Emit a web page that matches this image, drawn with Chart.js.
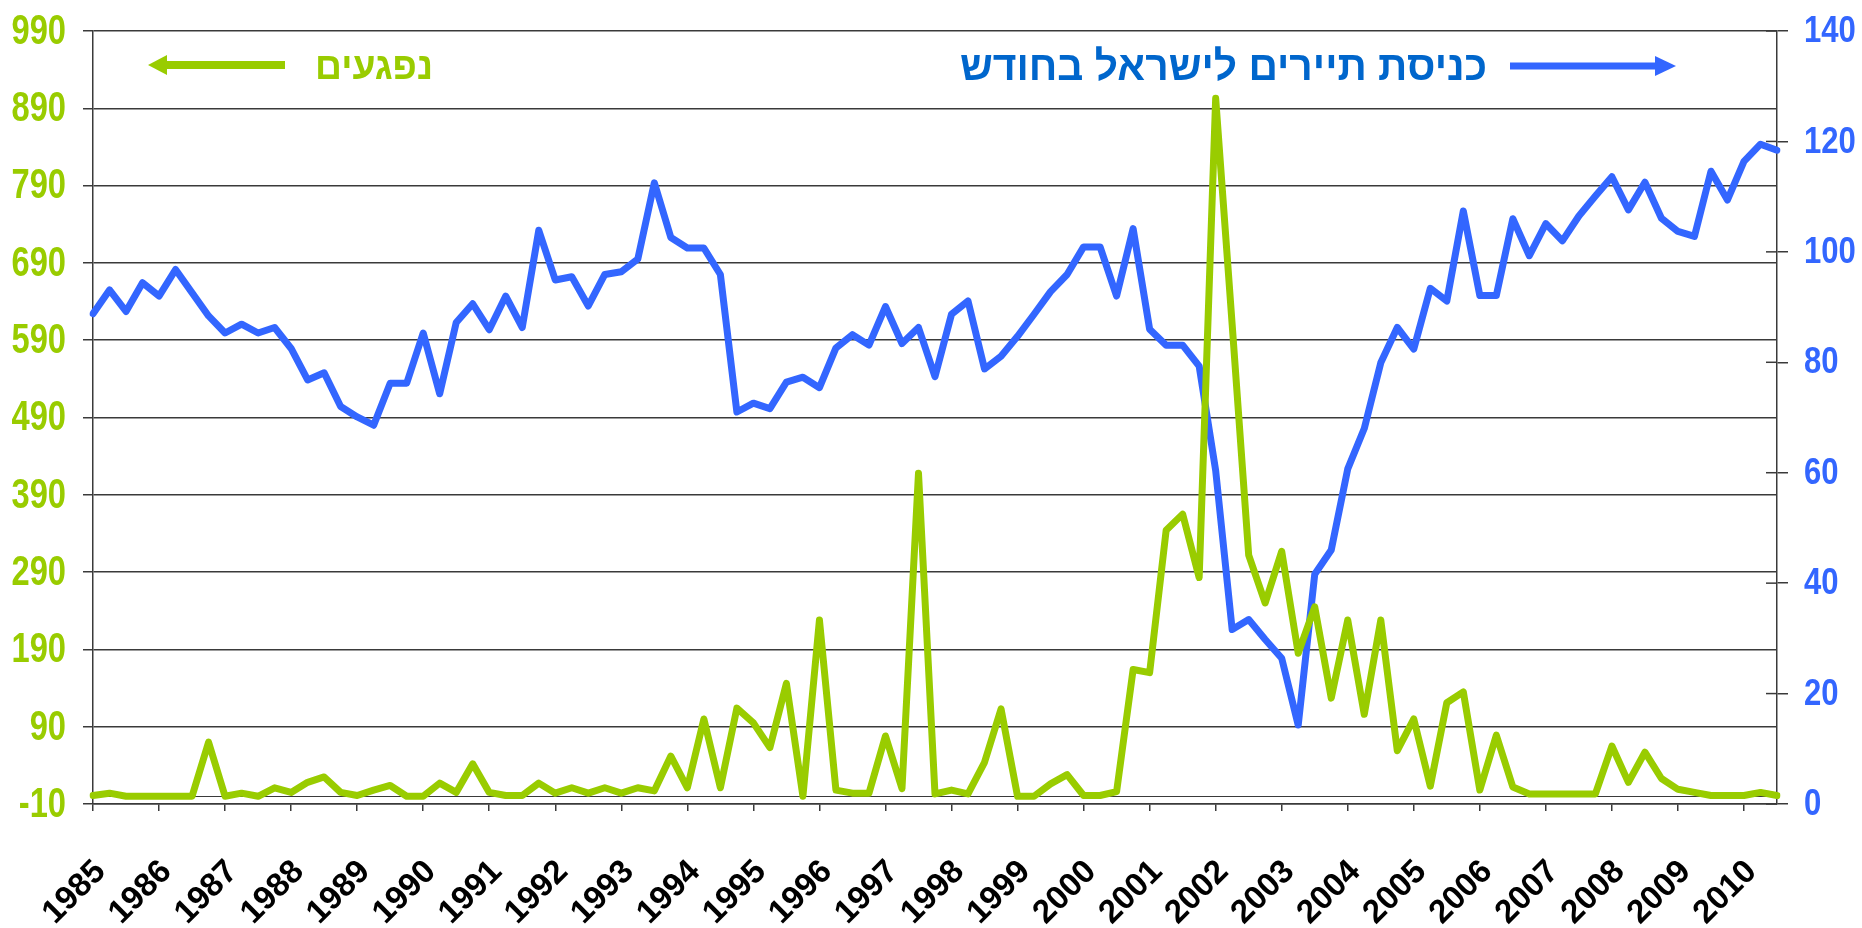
<!DOCTYPE html>
<html lang="he">
<head>
<meta charset="utf-8">
<title>נפגעים וכניסת תיירים לישראל</title>
<script src="https://cdn.jsdelivr.net/npm/chart.js@4.4.1/dist/chart.umd.min.js"></script>
<style>
  html, body { margin: 0; padding: 0; background: #fff; }
  #wrap { width: 1862px; height: 928px; }
</style>
</head>
<body>
<div id="wrap"><canvas id="chart" width="1862" height="928"></canvas></div>
<script>
// --- נתונים (רבעוני, 1985 עד רבעון 3 של 2010) ---
const years = ['1985','1986','1987','1988','1989','1990','1991','1992','1993','1994','1995','1996','1997',
  '1998','1999','2000','2001','2002','2003','2004','2005','2006','2007','2008','2009','2010'];

// נפגעים (ציר שמאלי)
const casualties = [
  1, 4, 0, 0, 0, 0, 0, 70, 0, 4, 0, 11, 5, 18, 25, 5, 1, 8, 14, 0, 0, 17, 5, 42, 5, 1,
  1, 17, 4, 11, 4, 11, 4, 11, 7, 52, 11, 100, 11, 114, 95, 63, 146, 0, 228, 8, 4, 4, 78, 10, 418,
  3, 8, 3, 44, 113, 0, 0, 16, 28, 1, 1, 6, 164, 160, 344, 365, 283, 903, 610, 312, 250, 317, 185, 245, 127, 228,
  106, 228, 59, 100, 13, 121, 135, 8, 79, 12, 3, 3, 3, 3, 3, 65, 18, 57, 23, 9, 5, 1, 1, 1, 5, 1
];

// כניסת תיירים לישראל בחודש, אלפים (ציר ימני)
const tourists = [
  88.8, 93.1, 89.2, 94.4, 92.0, 96.8, 92.6, 88.4, 85.3, 86.9, 85.3, 86.3, 82.5, 76.8, 78.1, 72.0, 70.1, 68.6,
  76.2, 76.2, 85.3, 74.3, 87.2, 90.6, 85.9, 92.0,
  86.3, 103.9, 94.9, 95.5, 90.2, 95.9, 96.4, 98.7, 112.5, 102.6, 100.7, 100.7, 95.9, 71.0, 72.6, 71.6, 76.4,
  77.3, 75.4, 82.6, 85.0, 83.1, 90.1, 83.4, 86.3,
  77.4, 88.7, 91.1, 78.8, 81.1, 84.7, 88.7, 92.8, 95.9, 100.9, 100.9, 92.0, 104.2, 86.0, 83.1, 83.1, 79.3,
  60.4, 31.6, 33.4, 29.8, 26.4, 14.3, 41.6, 46.0, 60.7,
  68.0, 79.9, 86.3, 82.4, 93.4, 91.1, 107.4, 92.1, 92.1, 106.0, 99.3, 105.1, 102.0, 106.5, 110.1, 113.6,
  107.6, 112.6, 106.1, 103.7, 102.8, 114.6, 109.4, 116.4, 119.5, 118.4
];

const leftTicks = [-10, 90, 190, 290, 390, 490, 590, 690, 790, 890, 990];

// --- צבעים ---
const GREEN = '#99CC00';
const BLUE = '#3366FF';
const BLUE_TEXT = '#0066CC';
const AXIS = '#3a3a3a';
const FAM = '"Liberation Sans", "DejaVu Sans", sans-serif';

// תווית שנה ברבעון הראשון, ריק בשאר
const labels = [];
years.forEach(y => { labels.push(y, '', '', ''); });
labels.length = tourists.length;

// --- קו אפס + סימוני ציר ימני פנימה ---
const axisExtras = {
  id: 'axisExtras',
  beforeDatasetsDraw(chart) {
    const { ctx, chartArea } = chart;
    const y = Math.round(chart.scales.y.getPixelForValue(0)) + 0.5;
    ctx.save();
    ctx.strokeStyle = AXIS;
    ctx.lineWidth = 1.2;
    ctx.beginPath();
    ctx.moveTo(chartArea.left, y);
    ctx.lineTo(chartArea.right, y);
    ctx.stroke();
    ctx.lineWidth = 1.5;
    chart.scales.y1.ticks.forEach(t => {
      const ty = chart.scales.y1.getPixelForValue(t.value);
      ctx.beginPath();
      ctx.moveTo(chartArea.right - 11, ty);
      ctx.lineTo(chartArea.right, ty);
      ctx.stroke();
    });
    ctx.restore();
  }
};

// --- תוויות צירים ---
function squeezed(ctx, text, x, y, align, size, sx, color) {
  ctx.save();
  ctx.translate(x, y);
  ctx.scale(sx, 1);
  ctx.font = 'bold ' + size + 'px ' + FAM;
  ctx.fillStyle = color;
  ctx.textAlign = align;
  ctx.textBaseline = 'middle';
  ctx.fillText(text, 0, 0);
  ctx.restore();
}

const axisLabels = {
  id: 'axisLabels',
  afterDraw(chart) {
    const ctx = chart.ctx;
    const yl = chart.scales.y;
    yl.ticks.forEach(t => squeezed(ctx, String(t.value), 66, yl.getPixelForValue(t.value) + 1, 'right', 43, 0.76, GREEN));
    const yr = chart.scales.y1;
    yr.ticks.forEach(t => squeezed(ctx, String(t.value), 1804, yr.getPixelForValue(t.value) + 1, 'left', 37, 0.84, BLUE));

    // שנים באלכסון, הקצה העליון של המילה ליד הסימון
    const xs = chart.scales.x;
    ctx.save();
    ctx.font = 'bold 33px ' + FAM;
    ctx.fillStyle = '#000';
    ctx.textAlign = 'right';
    ctx.textBaseline = 'alphabetic';
    labels.forEach((l, i) => {
      if (!l) return;
      ctx.save();
      ctx.translate(xs.getPixelForValue(i) + 14, chart.chartArea.bottom + 69);
      ctx.rotate(-Math.PI / 4);
      ctx.fillText(l, 0, 0);
      ctx.restore();
    });
    ctx.restore();
  }
};

// --- כותרות עם חצים ---
function arrow(ctx, tail, tip, y, color, w, headLen, headHalf) {
  const dir = Math.sign(tip - tail);
  const base = tip - dir * headLen;
  ctx.fillStyle = color;
  ctx.fillRect(Math.min(tail, base), y - w / 2, Math.abs(base - tail), w);
  ctx.beginPath();
  ctx.moveTo(tip, y);
  ctx.lineTo(base, y - headHalf);
  ctx.lineTo(base, y + headHalf);
  ctx.closePath();
  ctx.fill();
}

function fitText(ctx, text, left, right, baseline, color) {
  ctx.font = 'bold 40px ' + FAM;
  const size = 40 * (right - left) / ctx.measureText(text).width;
  ctx.font = 'bold ' + size.toFixed(1) + 'px ' + FAM;
  ctx.fillStyle = color;
  ctx.textAlign = 'center';
  ctx.textBaseline = 'alphabetic';
  ctx.direction = 'rtl';
  ctx.fillText(text, (left + right) / 2, baseline);
}

const headings = {
  id: 'headings',
  afterDatasetsDraw(chart) {
    const ctx = chart.ctx;
    ctx.save();
    fitText(ctx, 'נפגעים', 315, 433, 79, GREEN);
    arrow(ctx, 285, 148, 65, GREEN, 8, 19, 10);
    fitText(ctx, 'כניסת תיירים לישראל בחודש', 960, 1487, 80, BLUE_TEXT);
    arrow(ctx, 1510, 1676, 66, BLUE, 7, 21, 10);
    ctx.restore();
  }
};

// --- גרף ---
new Chart(document.getElementById('chart').getContext('2d'), {
  type: 'line',
  data: {
    labels,
    datasets: [
      {
        label: 'נפגעים',
        data: casualties,
        yAxisID: 'y',
        borderColor: GREEN,
        borderWidth: 7,
        pointRadius: 0,
        tension: 0,
        borderJoinStyle: 'round',
        borderCapStyle: 'round'
      },
      {
        label: 'כניסת תיירים לישראל בחודש',
        data: tourists,
        yAxisID: 'y1',
        borderColor: BLUE,
        borderWidth: 7,
        pointRadius: 0,
        tension: 0,
        borderJoinStyle: 'round',
        borderCapStyle: 'round'
      }
    ]
  },
  options: {
    responsive: false,
    animation: false,
    layout: { padding: { top: 31, left: 0, right: 0, bottom: 0 } },
    plugins: {
      legend: { display: false },
      tooltip: { enabled: false }
    },
    scales: {
      x: {
        type: 'category',
        offset: false,
        grid: { drawOnChartArea: false, color: AXIS, lineWidth: 1.5, tickLength: 7 },
        border: { color: AXIS, width: 1.5 },
        ticks: {
          autoSkip: false,
          minRotation: 45,
          maxRotation: 45,
          padding: 40,
          color: 'rgba(0,0,0,0)',
          font: { family: FAM, weight: 'bold', size: 33 },
          callback: function (v) {
            const l = this.getLabelForValue(v);
            return l ? l : null;
          }
        },
        afterFit: s => {
          s.height = 124;
          s.paddingLeft = 0;
          s.paddingRight = 0;
        }
      },
      y: {
        position: 'left',
        min: -10,
        max: 990,
        afterBuildTicks: s => { s.ticks = leftTicks.map(v => ({ value: v })); },
        grid: { color: AXIS, lineWidth: 1.5, tickLength: 10 },
        border: { color: AXIS, width: 1.5 },
        ticks: { display: false },
        afterFit: s => { s.width = 93; }
      },
      y1: {
        position: 'right',
        min: 0,
        max: 140,
        grid: { drawOnChartArea: false, color: AXIS, lineWidth: 1.5, tickLength: 11 },
        border: { color: AXIS, width: 1.5 },
        ticks: { display: false, stepSize: 20 },
        afterFit: s => { s.width = 85; }
      }
    }
  },
  plugins: [axisExtras, headings, axisLabels]
});
</script>
</body>
</html>
